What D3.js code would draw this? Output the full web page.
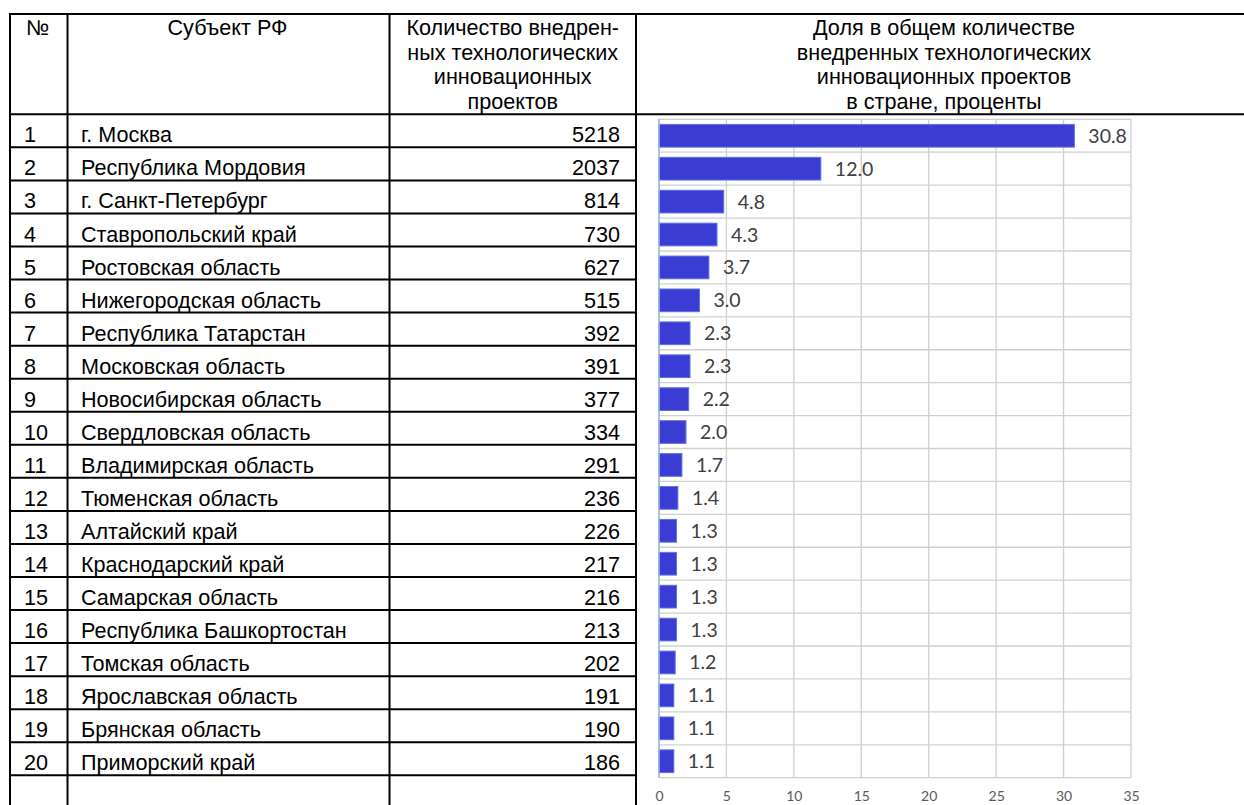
<!DOCTYPE html>
<html>
<head>
<meta charset="utf-8">
<script src="https://cdn.jsdelivr.net/npm/d3@7"></script>
<style>
    body { margin: 0; background: #fff; }
    svg { display: block; }
</style>
</head>
<body>
<div class="canvas"></div>
<script>
// table data
const regions = [
    'г. Москва', 'Республика Мордовия', 'г. Санкт-Петербург', 'Ставропольский край',
    'Ростовская область', 'Нижегородская область', 'Республика Татарстан', 'Московская область',
    'Новосибирская область', 'Свердловская область', 'Владимирская область', 'Тюменская область',
    'Алтайский край', 'Краснодарский край', 'Самарская область', 'Республика Башкортостан',
    'Томская область', 'Ярославская область', 'Брянская область', 'Приморский край'
]
const projects = [5218, 2037, 814, 730, 627, 515, 392, 391, 377, 334, 291, 236, 226, 217, 216, 213, 202, 191, 190, 186]
const shares = [30.8, 12.0, 4.8, 4.3, 3.7, 3.0, 2.3, 2.3, 2.2, 2.0, 1.7, 1.4, 1.3, 1.3, 1.3, 1.3, 1.2, 1.1, 1.1, 1.1]
const xTicks = [0, 5, 10, 15, 20, 25, 30, 35]

const headNum = ['№']
const headRegion = ['Субъект РФ']
const headCount = ['Количество внедрен-', 'ных технологических', 'инновационных', 'проектов']
const headShare = ['Доля в общем количестве', 'внедренных технологических', 'инновационных проектов', 'в стране, проценты']

const width = 1244
const height = 805

const svg = d3.select('.canvas')
    .append('svg')
    .attr('width', width)
    .attr('height', height)

// column edges of the table
const cols = [10, 67.5, 389.5, 636]
const tableTop = 14
const headBottom = 114.3
const rowsBottom = 775.3

const rows = d3.range(regions.length)

const rowY = d3.scaleBand()
    .domain(rows)
    .range([headBottom, rowsBottom])

const tableFont = '"Liberation Sans", Arial, sans-serif'

// table lines
const lines = svg.append('g')
    .attr('stroke', '#000')
    .attr('stroke-width', 2)

lines.append('line')
    .attr('x1', cols[0]).attr('x2', width)
    .attr('y1', tableTop).attr('y2', tableTop)
lines.append('line')
    .attr('x1', cols[0]).attr('x2', width)
    .attr('y1', headBottom).attr('y2', headBottom)

lines.selectAll('.col')
    .data(cols)
    .enter()
    .append('line')
    .attr('class', 'col')
    .attr('x1', d => d).attr('x2', d => d)
    .attr('y1', tableTop - 1).attr('y2', height)

lines.selectAll('.row')
    .data(rows)
    .enter()
    .append('line')
    .attr('class', 'row')
    .attr('x1', cols[0]).attr('x2', cols[3])
    .attr('y1', d => rowY(d) + rowY.bandwidth())
    .attr('y2', d => rowY(d) + rowY.bandwidth())

// header text
const header = svg.append('g')
    .attr('font-family', tableFont)
    .attr('font-size', 21.6)
    .attr('fill', '#000')

const headLines = (g, list, x, anchor) => {
    g.selectAll(null)
        .data(list)
        .enter()
        .append('text')
        .attr('x', x)
        .attr('y', (d, i) => 35 + i * 24.5)
        .attr('text-anchor', anchor)
        .text(d => d)
}

headLines(header, headNum, 26, 'start')
headLines(header, headRegion, (cols[1] + cols[2]) / 2 - 1, 'middle')
headLines(header, headCount, (cols[2] + cols[3]) / 2, 'middle')
headLines(header, headShare, 944, 'middle')

// table body
const body = svg.append('g')
    .attr('font-family', tableFont)
    .attr('font-size', 21.6)
    .attr('fill', '#000')

const rowText = body.selectAll('g')
    .data(rows)
    .enter()
    .append('g')
    .attr('transform', d => `translate(0, ${rowY(d) + rowY.bandwidth() - 5})`)

rowText.append('text')
    .attr('x', 24)
    .text(d => d + 1)

rowText.append('text')
    .attr('x', 81)
    .text(d => regions[d])

rowText.append('text')
    .attr('x', 620)
    .attr('text-anchor', 'end')
    .text(d => projects[d])

// bar chart
const x = d3.scaleLinear()
    .domain([0, 35])
    .range([659, 1131])

const y = d3.scaleBand()
    .domain(rows)
    .range([119.3, 777.7])
    .paddingInner(0.31)
    .paddingOuter(0.155)

const grid = svg.append('g')
    .attr('stroke', '#d0d0d0')
    .attr('stroke-width', 1.3)

grid.selectAll('.v')
    .data(xTicks)
    .enter()
    .append('line')
    .attr('x1', d => x(d)).attr('x2', d => x(d))
    .attr('y1', 119.3).attr('y2', 777.7)

const step = y.step()
grid.selectAll('.h')
    .data(d3.range(regions.length + 1))
    .enter()
    .append('line')
    .attr('x1', x(0)).attr('x2', x(35))
    .attr('y1', d => 119.3 + d * step)
    .attr('y2', d => 119.3 + d * step)

// bars
svg.append('g')
    .selectAll('rect')
    .data(shares)
    .enter()
    .append('rect')
    .attr('x', x(0))
    .attr('y', (d, i) => y(i))
    .attr('width', d => x(d) - x(0))
    .attr('height', y.bandwidth())
    .attr('fill', '#3a3cd3')
    .attr('stroke', '#5f72e2')
    .attr('stroke-width', 1)

// left axis line
svg.append('line')
    .attr('x1', x(0)).attr('x2', x(0))
    .attr('y1', 119.3).attr('y2', 777.7)
    .attr('stroke', '#9db5e3')
    .attr('stroke-width', 1.5)

// data labels
svg.append('g')
    .attr('font-family', 'Lato, "Open Sans", sans-serif')
    .attr('font-size', 19.5)
    .attr('fill', '#404040')
    .selectAll('text')
    .data(shares)
    .enter()
    .append('text')
    .attr('x', d => x(d) + 14)
    .attr('y', (d, i) => y(i) + y.bandwidth() / 2 + 7)
    .text(d => d.toFixed(1))

// x axis
const xAxis = d3.axisBottom(x)
    .tickValues(xTicks)
    .tickSize(0)
    .tickPadding(13)

const xAxisGroup = svg.append('g')
    .attr('transform', 'translate(0, 777.7)')
    .call(xAxis)

xAxisGroup.select('.domain').remove()
xAxisGroup.selectAll('text')
    .attr('font-family', 'Lato, "Open Sans", sans-serif')
    .attr('font-size', 14)
    .attr('fill', '#595959')
</script>
</body>
</html>
